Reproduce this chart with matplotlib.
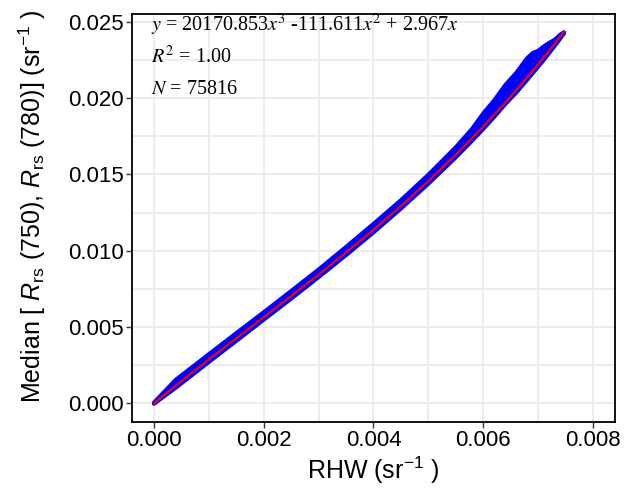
import matplotlib
matplotlib.use("Agg")
import matplotlib.pyplot as plt
import matplotlib.ticker as mticker

plt.rcParams['font.family'] = ['Liberation Sans', 'DejaVu Sans']
plt.rcParams['mathtext.fontset'] = 'custom'
plt.rcParams['mathtext.rm'] = 'Liberation Sans'
plt.rcParams['mathtext.it'] = 'Liberation Sans:italic'

# band of data points (upper / lower edge of the blue cloud)
band_x = [0, 0.0004, 0.001, 0.0015, 0.002, 0.0025, 0.003, 0.0035, 0.004, 0.0045, 0.005,
          0.0055, 0.0058, 0.006, 0.0062, 0.0064, 0.0066, 0.0068, 0.0069, 0.0070, 0.0071,
          0.0072, 0.0073, 0.0074, 0.00747]
band_upper = [0.00005, 0.00155, 0.00322, 0.00460, 0.00597, 0.00736, 0.00877, 0.01025, 0.01176,
              0.01331, 0.01498, 0.01678, 0.01800, 0.01900, 0.01985, 0.02085, 0.02165, 0.02262,
              0.02295, 0.02310, 0.02338, 0.02362, 0.02382, 0.02415, 0.02432]
band_lower = [-0.00002, 0.00104, 0.00272, 0.00410, 0.00549, 0.00687, 0.00828, 0.00972, 0.01121,
              0.01277, 0.01440, 0.01613, 0.01723, 0.01799, 0.01878, 0.01961, 0.02037, 0.02121,
              0.02164, 0.02207, 0.02250, 0.02296, 0.02342, 0.02390, 0.02425]
# fitted cubic (red line)
fit_x = [0, 0.0004, 0.001, 0.0015, 0.002, 0.0025, 0.003, 0.0035, 0.004, 0.0045, 0.005,
         0.0055, 0.0058, 0.006, 0.0063, 0.0066, 0.0068, 0.0070, 0.0072, 0.0074, 0.00747]
fit_y = [0.0, 0.00117, 0.002876, 0.004267, 0.005649, 0.007035, 0.008441, 0.009882, 0.011373,
         0.012930, 0.014566, 0.016298, 0.017390, 0.018141, 0.019306, 0.020519, 0.021357,
         0.022219, 0.023105, 0.024018, 0.024343]

x_ticks = [0.000, 0.002, 0.004, 0.006, 0.008]
y_ticks = [0.000, 0.005, 0.010, 0.015, 0.020, 0.025]

fig = plt.figure(figsize=(6.24, 4.99), dpi=100)
ax = fig.add_axes([0.2115, 0.1543, 0.7741, 0.8177])

ax.fill_between(band_x, band_lower, band_upper, color='#0000FF', lw=0, zorder=2)
ax.plot(band_x, band_upper, color='#0000FF', lw=3, zorder=2, solid_capstyle='round',
        solid_joinstyle='round')
ax.plot(band_x, band_lower, color='#0000FF', lw=3, zorder=2, solid_capstyle='round',
        solid_joinstyle='round')
ax.plot(fit_x, fit_y, color='#FF0000', lw=1.5, zorder=3)

ax.set_xlim(-0.0004, 0.0084)
ax.set_ylim(-0.001215, 0.025515)
ax.set_xticks(x_ticks)
ax.set_yticks(y_ticks)
ax.xaxis.set_minor_locator(mticker.MultipleLocator(0.001))
ax.yaxis.set_minor_locator(mticker.MultipleLocator(0.0025))
ax.xaxis.set_major_formatter(mticker.FormatStrFormatter('%.3f'))
ax.yaxis.set_major_formatter(mticker.FormatStrFormatter('%.3f'))

ax.grid(True, which='both', color='#EBEBEB', lw=1.3, zorder=0)
ax.set_axisbelow(True)
ax.tick_params(which='major', direction='out', length=4, width=1, color='#333333',
               labelsize=16, labelcolor='black', pad=2)
ax.tick_params(which='minor', length=0)
for s in ax.spines.values():
    s.set_color('black')
    s.set_linewidth(1.3)

ax.set_xlabel(r'RHW (sr$^{-1}$ )', fontsize=18, labelpad=2)
ax.set_ylabel(r'Median [ $\mathit{R}_{\rm rs}$ (750), $\mathit{R}_{\rm rs}$ (780)] (sr$^{-1}$ )',
              fontsize=18)
ax.yaxis.set_label_coords(-0.174, 0.528)

ann = dict(transform=ax.transAxes, fontsize=14.5, family=['Liberation Serif'],
           math_fontfamily='stix', ha='left', va='baseline')
ax.text(0.04, 0.957, r'$y$ = 20170.853$x^3$ -111.611$x^2$ + 2.967$x$', **ann)
ax.text(0.04, 0.879, r'$R^2$ = 1.00', **ann)
ax.text(0.04, 0.805, r'$N$ = 75816', **ann)

fig.savefig('out.png', dpi=100)
